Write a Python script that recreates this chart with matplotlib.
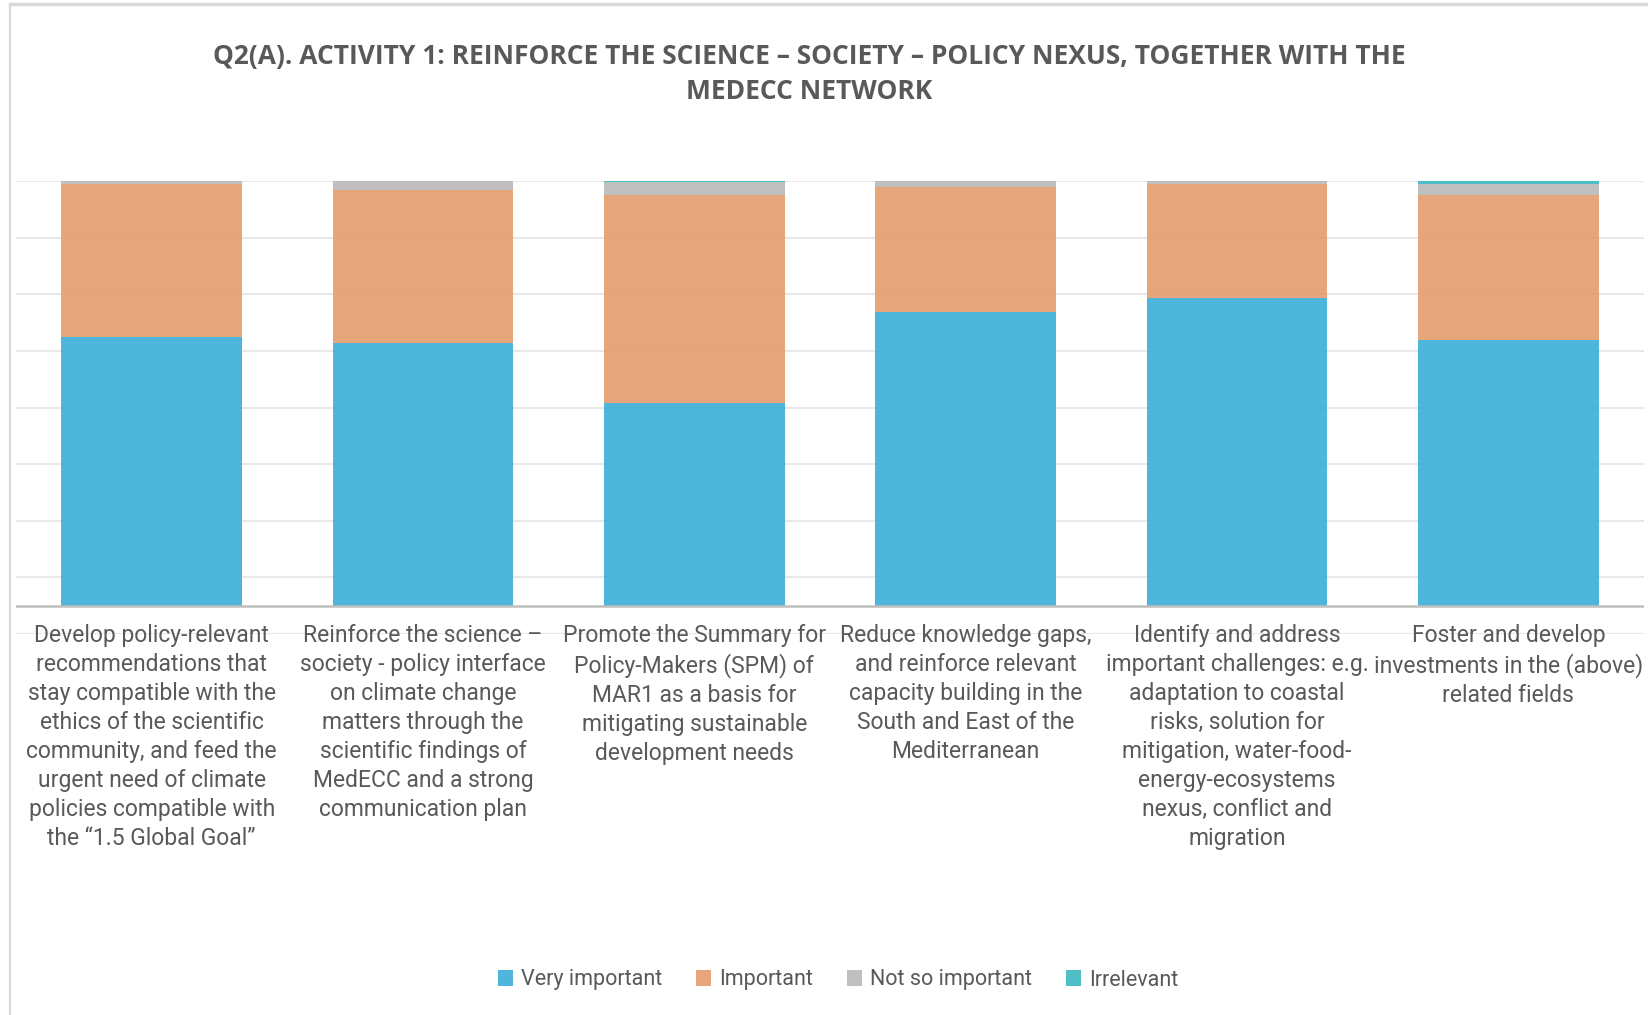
import numpy as np
import matplotlib
matplotlib.use("Agg")
import matplotlib.pyplot as plt
from matplotlib.patches import Patch
from matplotlib.lines import Line2D

# ------------------------------------------------------------
# Data (share of answers, %)
# ------------------------------------------------------------
categorias = [
    "Develop policy-relevant\nrecommendations that\nstay compatible with the\nethics of the scientific\ncommunity, and feed the\nurgent need of climate\npolicies compatible with\nthe \u201c1.5 Global Goal\u201d",
    "Reinforce the science \u2013\nsociety - policy interface\non climate change\nmatters through the\nscientific findings of\nMedECC and a strong\ncommunication plan",
    "Promote the Summary for\nPolicy-Makers (SPM) of\nMAR1 as a basis for\nmitigating sustainable\ndevelopment needs",
    "Reduce knowledge gaps,\nand reinforce relevant\ncapacity building in the\nSouth and East of the\nMediterranean",
    "Identify and address\nimportant challenges: e.g.\nadaptation to coastal\nrisks, solution for\nmitigation, water-food-\nenergy-ecosystems\nnexus, conflict and\nmigration",
    "Foster and develop\ninvestments in the (above)\nrelated fields",
]
very_important = [63.2, 61.9, 47.8, 69.2, 72.5, 62.6]
important = [36.1, 36.0, 48.9, 29.4, 26.7, 34.0]
not_so_important = [0.7, 2.1, 3.1, 1.4, 0.8, 2.7]
irrelevant = [0.0, 0.0, 0.2, 0.0, 0.0, 0.7]

series = ["Very important", "Important", "Not so important", "Irrelevant"]
cores = ["#40B0D9", "#E69E72", "#BABABA", "#40BAC3"]

titulo = ("Q2(A). ACTIVITY 1: REINFORCE THE SCIENCE \u2013 SOCIETY \u2013 POLICY NEXUS, TOGETHER WITH THE\n"
          "MEDECC NETWORK")

TXT = "#595959"
plt.rcParams["font.family"] = ["Roboto", "DejaVu Sans"]

# ------------------------------------------------------------
# Figure
# ------------------------------------------------------------
fig = plt.figure(figsize=(16.48, 10.15), dpi=100)
ax = fig.add_axes([16 / 1648, 1 - 634 / 1015, 1628 / 1648, (634 - 181) / 1015])

x = np.arange(len(categorias))
dados = np.array([very_important, important, not_so_important, irrelevant]) / 100.0
base = np.zeros(len(categorias))
for valores, cor in zip(dados, cores):
    ax.bar(x, valores, bottom=base, width=0.667, color=cor, alpha=0.93, zorder=2)
    base += valores

passo = 1 / 7.5
ax.set_ylim(-0.5 * passo, 1.0)
ax.set_xlim(-0.5, len(categorias) - 0.5)
ax.set_yticks(1 - np.arange(9) * passo)
ax.set_yticklabels([])
ax.set_xticks([])
ax.tick_params(left=False, bottom=False)
ax.grid(axis="y", color="#E8E8E8", linewidth=1.5, zorder=0)
ax.axhline(0, color="#BFBFBF", linewidth=1.8, zorder=3)
for s in ax.spines.values():
    s.set_visible(False)

for i, cat in enumerate(categorias):
    ax.text(i, -0.042, cat, ha="center", va="top", fontsize=16.5, color=TXT,
            linespacing=1.34, zorder=5, clip_on=False)

fig.text(809.5 / 1648, 1 - 74 / 1015, titulo, ha="center", va="center",
         fontsize=19, fontweight="bold", color=TXT, linespacing=1.35,
         family=["Open Sans", "DejaVu Sans"])

handles = [Patch(facecolor=c, alpha=0.93) for c in cores]
fig.legend(handles, series, loc="center", bbox_to_anchor=(838 / 1648, 1 - 980 / 1015),
           ncol=4, frameon=False, fontsize=15.5, labelcolor=TXT,
           handlelength=0.7, handleheight=0.7, handletextpad=0.35, columnspacing=1.6)

# borda do quadro
fig.add_artist(Line2D([10 / 1648, 1], [1 - 4 / 1015, 1 - 4 / 1015], color="#D9D9D9", lw=2.5))
fig.add_artist(Line2D([10 / 1648, 10 / 1648], [0, 1 - 4 / 1015], color="#D9D9D9", lw=1.5))

fig.savefig("out.png", dpi=100)
